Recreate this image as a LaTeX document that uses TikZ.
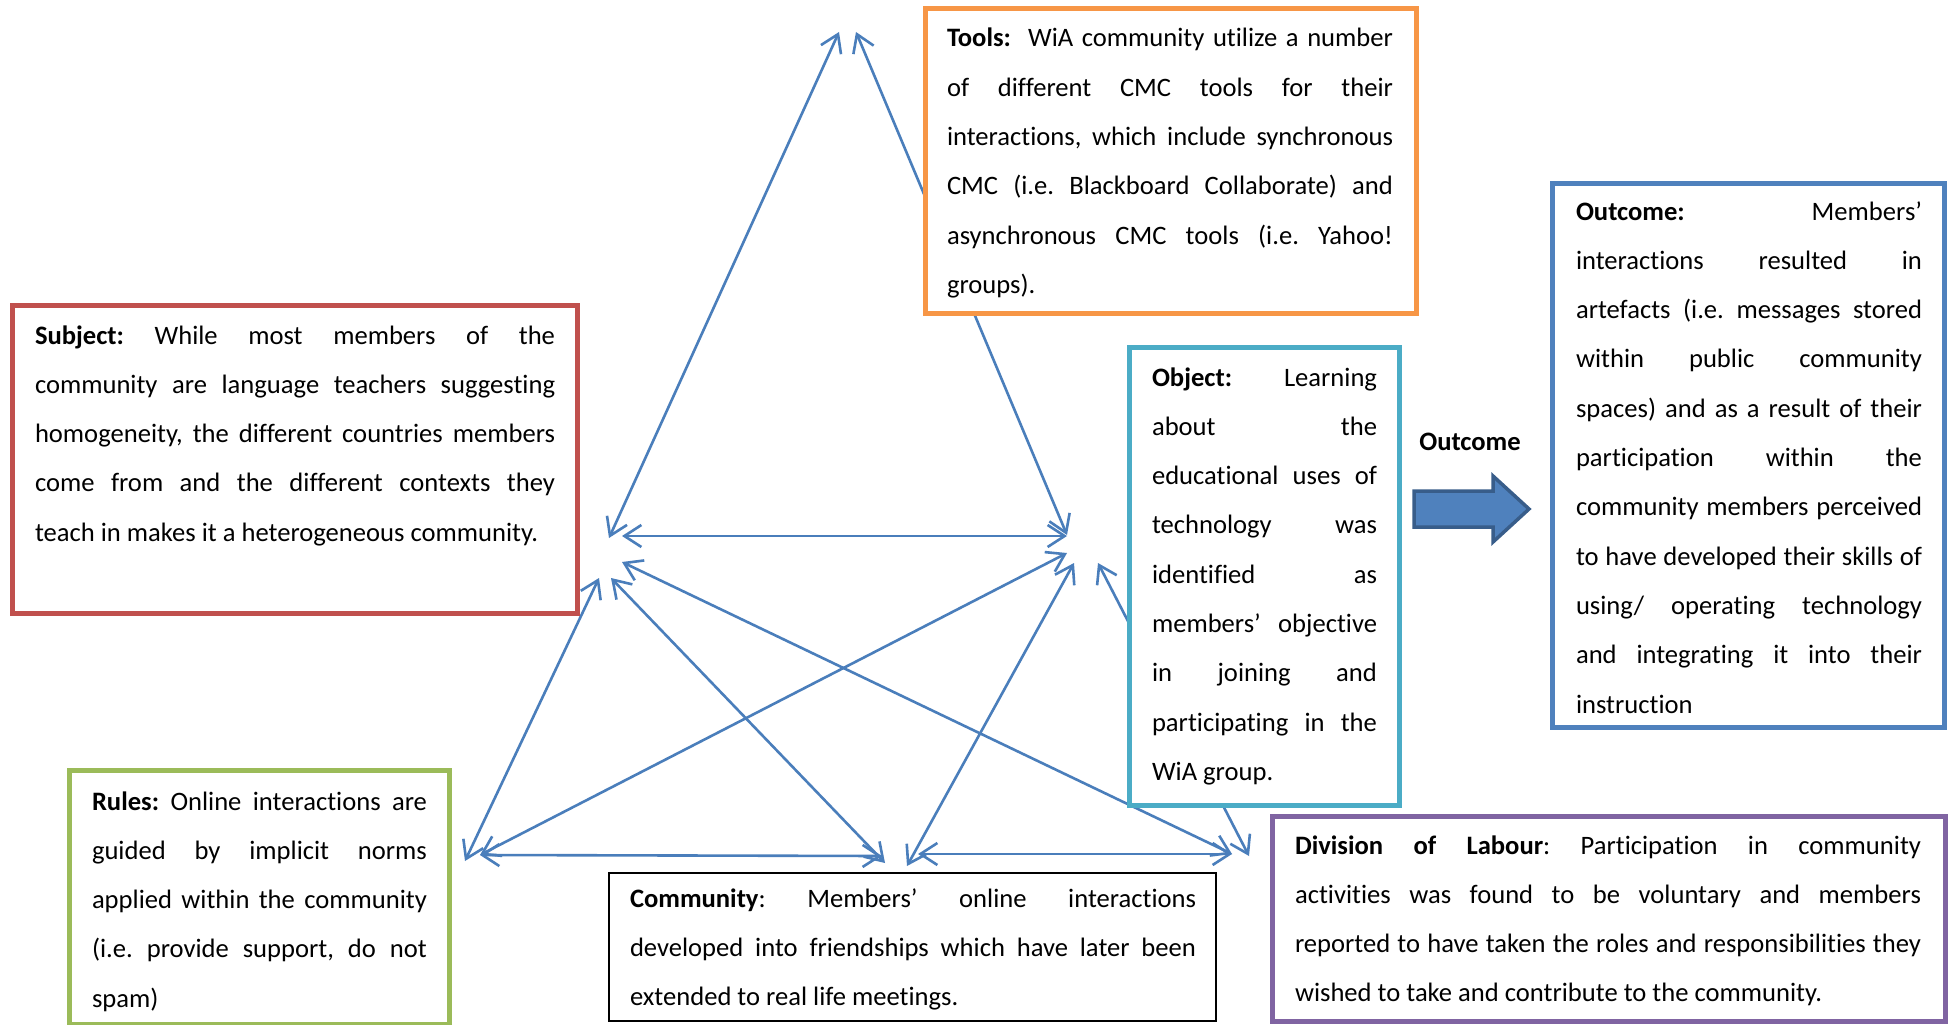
\documentclass[tikz,border=0pt]{standalone}
\usepackage{fontspec}
\setmainfont{Carlito}[Ligatures=NoCommon]
\usetikzlibrary{arrows.meta}

\definecolor{subjred}{HTML}{C0504D}
\definecolor{toolorange}{HTML}{F79646}
\definecolor{objcyan}{HTML}{4BACC6}
\definecolor{outblue}{HTML}{4F81BD}
\definecolor{outblueline}{HTML}{385D8A}
\definecolor{rulegreen}{HTML}{9BBB59}
\definecolor{divpurple}{HTML}{8064A2}
\definecolor{linkblue}{HTML}{4A7EBB}

% one justified line spread to the full text width, and a ragged last line
\newcommand\jl[1]{\hbox to \hsize{\frenchspacing\spaceskip=0pt\xspaceskip=0pt #1}}
\newcommand\lastln[1]{\hbox{\frenchspacing\spaceskip=0pt\xspaceskip=0pt #1}}
\newcommand\firstln[1]{\hbox to \hsize{\frenchspacing\spaceskip=0pt\xspaceskip=0pt \rule{0pt}{22pt}#1}}

\begin{document}
\begin{tikzpicture}[x=1pt,y=-1pt,
  link/.style={draw=linkblue, line width=2.6pt,
    {Straight Barb[length=17pt,width=22pt]}-{Straight Barb[length=17pt,width=22pt]}},
  box/.style={anchor=north west, inner sep=0pt, outer sep=0pt, line width=5pt, fill=white},
  body/.style={anchor=north west, inner sep=0pt, outer sep=0pt, text width=#1, align=justify,
    font=\fontsize{26.6pt}{49.3pt}\selectfont\frenchspacing},
]
\useasboundingbox[fill=white] (0,0) rectangle (1952,1025);

% end points of the links around the triangle
\coordinate (sT) at (609,538);
\coordinate (tS) at (839,32);
\coordinate (tO) at (856,32);
\coordinate (oT) at (1067,535);
\coordinate (sO) at (622,536);
\coordinate (oS) at (1067,536);
\coordinate (rS) at (465,861);
\coordinate (sR) at (599,578);
\coordinate (sC) at (611,578);
\coordinate (cS) at (885,863);
\coordinate (sD) at (622,562);
\coordinate (dS) at (1232,854);
\coordinate (rO) at (480,855);
\coordinate (oR) at (1067,553);
\coordinate (cO) at (907,866);
\coordinate (oC) at (1074,563);
\coordinate (oD) at (1098,563);
\coordinate (dO) at (1249,856);
\coordinate (cR) at (882,856);
\coordinate (cD) at (918,854);

% links (drawn first so the boxes sit on top of them)
\draw[link] (sT) -- (tS);
\draw[link] (tO) -- (oT);
\draw[link] (sO) -- (oS);
\draw[link] (rS) -- (sR);
\draw[link] (sC) -- (cS);
\draw[link] (sD) -- (dS);
\draw[link] (rO) -- (oR);
\draw[link] (cO) -- (oC);
\draw[link] (oD) -- (dO);
\draw[link] (rO) -- (cR);
\draw[link] (cD) -- (dS);

% boxes
\node[box, draw=subjred, minimum width=565pt, minimum height=308pt] (subject) at (12,305) {};
\node[box, draw=toolorange, minimum width=491pt, minimum height=304pt] (tools) at (925,9) {};
\node[box, draw=objcyan, minimum width=270pt, minimum height=458pt] (object) at (1129,347) {};
\node[box, draw=outblue, minimum width=392pt, minimum height=544pt] (outcome) at (1552,183) {};
\node[box, draw=rulegreen, minimum width=380pt, minimum height=254pt] (rules) at (69,770) {};
\node[box, draw=black, line width=1.5pt, minimum width=607pt, minimum height=148pt] (community) at (609,873) {};
\node[box, draw=divpurple, minimum width=673pt, minimum height=205pt] (division) at (1272,816) {};

% texts
\node[body=520pt] (subjecttext) at (35,322) {%
\firstln{\textbf{Subject:} While most members of the}
\jl{community are language teachers suggesting}
\jl{homogeneity, the different countries members}
\jl{come from and the different contexts they}
\lastln{teach in makes it a heterogeneous community.}};

\node[body=446pt] (toolstext) at (947,25) {%
\firstln{\textbf{Tools:}\ \ WiA community utilize a number}
\jl{of different CMC tools for their}
\jl{interactions, which include synchronous}
\jl{CMC (i.e. Blackboard Collaborate) and}
\jl{asynchronous CMC tools (i.e. Yahoo!}
\lastln{groups).}};

\node[body=225pt] (objecttext) at (1152,364) {%
\firstln{\textbf{Object:} Learning}
\jl{about the}
\jl{educational uses of}
\jl{technology was}
\jl{identified as}
\jl{members’ objective}
\jl{in joining and}
\jl{participating in the}
\lastln{WiA group.}};

\node[body=346pt] (outcometext) at (1576,198) {%
\firstln{\textbf{Outcome:} Members’}
\jl{interactions resulted in}
\jl{artefacts (i.e. messages stored}
\jl{within public community}
\jl{spaces) and as a result of their}
\jl{participation within the}
\jl{community members perceived}
\jl{to have developed their skills of}
\jl{using/ operating technology}
\jl{and integrating it into their}
\lastln{instruction}};

\node[body=335pt] (rulestext) at (92,788) {%
\firstln{\textbf{Rules:} Online interactions are}
\jl{guided by implicit norms}
\jl{applied within the community}
\jl{(i.e. provide support, do not}
\lastln{spam)}};

\begin{scope}
\clip (600,860) rectangle (1220,1010);
\node[body=566pt] (communitytext) at (630,885) {%
\firstln{\textbf{Community}: Members’ online interactions}
\jl{developed into friendships which have later been}
\lastln{extended to real life meetings.}};
\end{scope}

\node[body=626pt] (divisiontext) at (1295,832) {%
\firstln{\textbf{Division of Labour}: Participation in community}
\jl{activities was found to be voluntary and members}
\jl{reported to have taken the roles and responsibilities they}
\lastln{wished to take and contribute to the community.}};

% outcome label and block arrow
\node[anchor=base, inner sep=0pt, font=\fontsize{26.6pt}{30pt}\selectfont\bfseries] (outlabel) at (1470,450) {Outcome};
\draw[fill=outblue, draw=outblueline, line width=3.5pt, line join=miter]
  (1414,491) -- (1493,491) -- (1493,476) -- (1529,509) -- (1493,542) -- (1493,527) -- (1414,527) -- cycle;
\end{tikzpicture}
\end{document}
